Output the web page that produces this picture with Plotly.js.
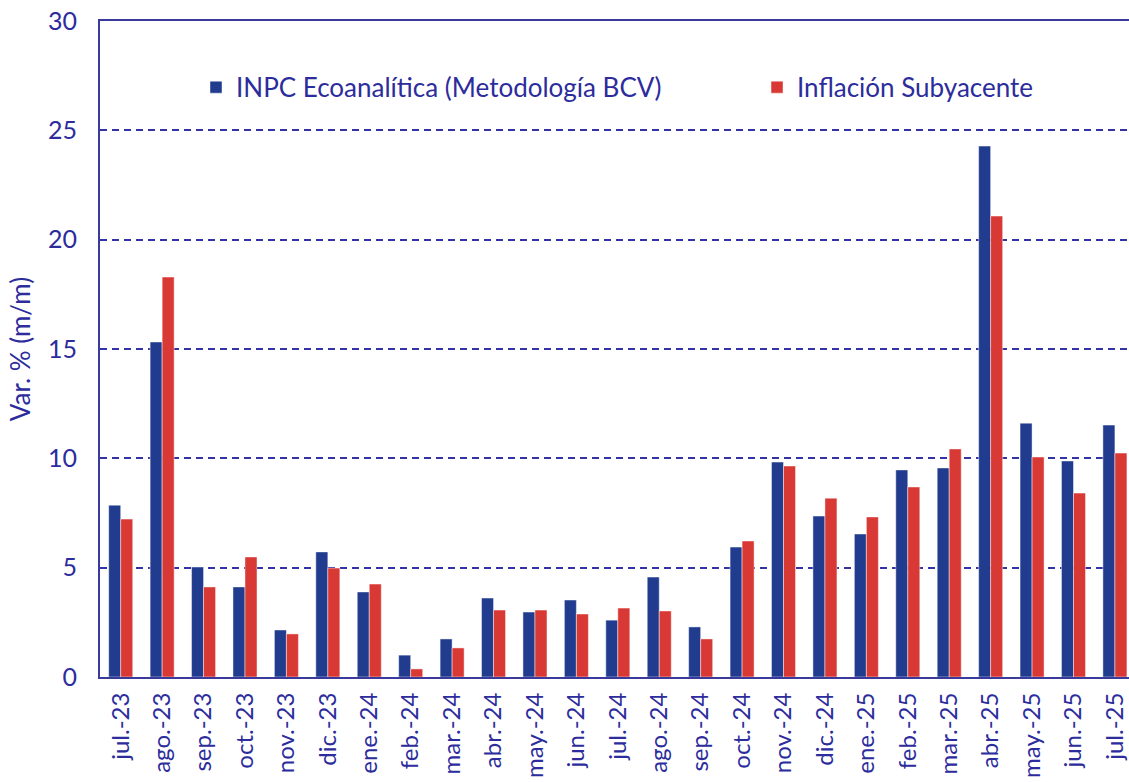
<!DOCTYPE html>
<html>
<head>
<meta charset="utf-8">
<script src="https://cdn.plot.ly/plotly-3.0.1.min.js"></script>
<style>html,body{margin:0;padding:0;background:#fff;}#chart{width:1129px;height:782px;}</style>
</head>
<body>
<div id="chart"></div>
<script>
const categories = ["jul.-23","ago.-23","sep.-23","oct.-23","nov.-23","dic.-23","ene.-24","feb.-24","mar.-24","abr.-24","may.-24","jun.-24","jul.-24","ago.-24","sep.-24","oct.-24","nov.-24","dic.-24","ene.-25","feb.-25","mar.-25","abr.-25","may.-25","jun.-25","jul.-25"];
const inpcValues = [7.86,15.32,5.03,4.12,2.15,5.72,3.89,1.0,1.74,3.61,2.97,3.52,2.6,4.57,2.29,5.94,9.83,7.36,6.54,9.47,9.56,24.28,11.61,9.88,11.52];
const subyacenteValues = [7.22,18.29,4.12,5.49,1.97,4.98,4.25,0.37,1.33,3.06,3.06,2.88,3.15,3.02,1.74,6.22,9.65,8.18,7.32,8.69,10.43,21.08,10.06,8.41,10.24];
const seriesNames = ["INPC Ecoanalítica (Metodología BCV)","Inflación Subyacente"];
const yTicks = [0,5,10,15,20,25,30];

const txt = "#2c2c9c";
const axisCol = "#3a3a9c";
const FONT = "Lato, 'Noto Sans', sans-serif";

const traces = [
  {type:"bar", name:seriesNames[0], x:categories, y:inpcValues, legend:"legend",
   marker:{color:"#213c8f", line:{color:"rgba(255,255,255,0.45)", width:1}}},
  {type:"bar", name:seriesNames[1], x:categories, y:subyacenteValues, legend:"legend2",
   marker:{color:"#d93935", line:{color:"rgba(255,255,255,0.45)", width:1}}}
];

const legendBase = {orientation:"h", xanchor:"left", y:0.899, yanchor:"middle",
  font:{family:FONT, size:26, color:txt}, bgcolor:"rgba(0,0,0,0)"};

const layout = {
  width:1129, height:782,
  margin:{l:100, r:0, t:21, b:105},
  paper_bgcolor:"#fff", plot_bgcolor:"#fff",
  font:{family:FONT, color:txt, size:24},
  barmode:"group", bargap:0.42, bargroupgap:0,
  showlegend:true,
  legend:Object.assign({}, legendBase, {x:0.0933}),
  legend2:Object.assign({}, legendBase, {x:0.6385}),
  xaxis:{type:"category", range:[-0.5, 24.34], showline:true, mirror:true, linecolor:axisCol, linewidth:2,
         showgrid:false, ticks:"", tickangle:-90, tickfont:{family:FONT, size:24, color:txt},
         ticklabelstandoff:4, fixedrange:true},
  yaxis:{range:[0,30], tickvals:yTicks, showline:true, linecolor:axisCol, linewidth:2,
         showgrid:true, gridcolor:"#3333a8", griddash:"7px,5px", gridwidth:2,
         zeroline:false, ticks:"", tickfont:{family:FONT, size:25, color:txt},
         ticklabelstandoff:16,
         title:{text:"Var. % (m/m)", font:{family:FONT, size:26, color:txt}, standoff:10}}
};

Plotly.newPlot("chart", traces, layout, {displayModeBar:false, staticPlot:true});
</script>
</body>
</html>
